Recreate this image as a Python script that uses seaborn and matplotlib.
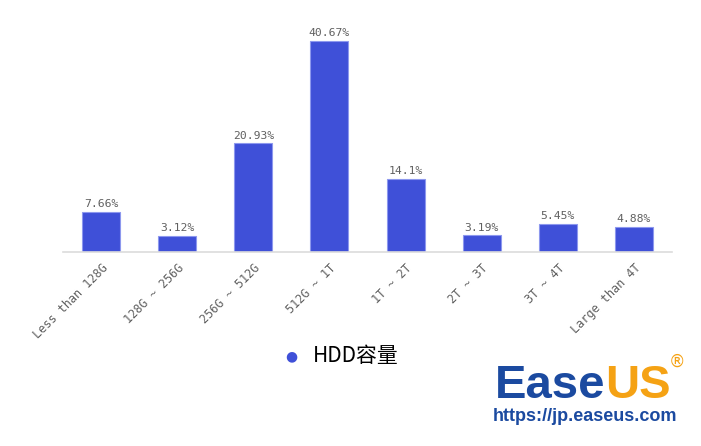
import matplotlib
matplotlib.use("Agg")
import matplotlib.pyplot as plt
import seaborn as sns
import pandas as pd

# HDD capacity share
categories = ["Less than 128G", "128G ~ 256G", "256G ~ 512G", "512G ~ 1T",
              "1T ~ 2T", "2T ~ 3T", "3T ~ 4T", "Large than 4T"]
shares = [7.66, 3.12, 20.93, 40.67, 14.1, 3.19, 5.45, 4.88]
value_labels = ["7.66%", "3.12%", "20.93%", "40.67%", "14.1%", "3.19%", "5.45%", "4.88%"]
series_name = "HDD容量"

df = pd.DataFrame({"capacity": categories, "share": shares})

sns.set_style("white")
plt.rcParams["font.family"] = ["DejaVu Sans", "Noto Sans CJK SC"]

bar_color = "#3f50d8"

fig = plt.figure(figsize=(7.01, 4.46), dpi=100)
ax = fig.add_axes([63 / 701, 194 / 446, 609 / 701, 232 / 446])

sns.barplot(data=df, x="capacity", y="share", color=bar_color, width=0.5,
            edgecolor="#8d98ee", linewidth=0.8, saturation=1, ax=ax)

ax.set_ylim(0, 44.7)
ax.set_xlim(-0.5, len(categories) - 0.5)
sns.despine(ax=ax, left=True)
ax.spines["bottom"].set_color("#dcdcdc")
ax.spines["bottom"].set_linewidth(1.2)
ax.set_yticks([])
ax.set_xlabel("")
ax.set_ylabel("")
ax.tick_params(axis="x", length=4, color="#dcdcdc", width=1, pad=3)
ax.set_xticks(range(len(categories)))
ax.set_xticklabels(categories, rotation=45, ha="right", va="top",
                   rotation_mode="anchor", fontsize=8.5, color="#606060",
                   family="DejaVu Sans Mono")

for i, (v, lab) in enumerate(zip(shares, value_labels)):
    ax.annotate(lab, (i, v), xytext=(0, 2), textcoords="offset points",
                ha="center", va="bottom", fontsize=8.2, color="#606060",
                family="DejaVu Sans Mono")

# legend
fig.text(291 / 701, 1 - 356 / 446, "●", color=bar_color, fontsize=10,
         ha="center", va="center")
fig.text(313 / 701, 1 - 356 / 446, series_name, color="black", fontsize=15,
         ha="left", va="center", family=["Noto Sans CJK SC", "DejaVu Sans"])

# logo
logo_y = 1 - 398 / 446
t1 = fig.text(495 / 701, logo_y, "Ease", color="#1b4aa0", fontsize=34,
              fontweight="bold", family="Liberation Sans", ha="left", va="baseline")
fig.canvas.draw()
bb = t1.get_window_extent()
t2 = fig.text(bb.x1 / 701, logo_y, "US", color="#f5a214", fontsize=34,
              fontweight="bold", family="Liberation Sans", ha="left", va="baseline")
fig.canvas.draw()
bb2 = t2.get_window_extent()
fig.text((bb2.x1 - 2) / 701, 1 - 362 / 446, "®", color="#f5a214", fontsize=12,
         family="DejaVu Sans", ha="left", va="center")
fig.text(493 / 701, 1 - 421 / 446, "https://jp.easeus.com", color="#1b4aa0",
         fontsize=13, fontweight="bold", family="Liberation Sans",
         ha="left", va="baseline")

fig.savefig("out.png", dpi=100)
